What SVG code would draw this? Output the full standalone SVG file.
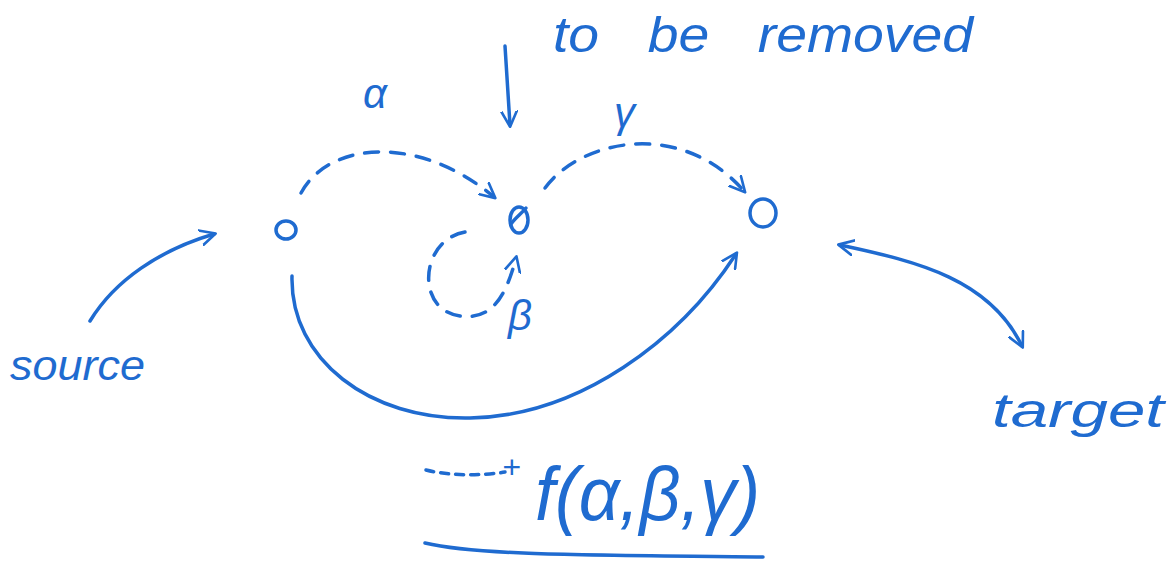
<svg xmlns="http://www.w3.org/2000/svg" width="1167" height="566" viewBox="0 0 1167 566">
<defs>
<marker id="ah" viewBox="0 0 10 10" refX="8" refY="5" markerWidth="5" markerHeight="5" orient="auto-start-reverse" markerUnits="strokeWidth">
<path d="M0,0.5 L9,5 L0,9.5" fill="none" stroke="#1f6bd0" stroke-width="1.5" stroke-linecap="round" stroke-linejoin="round"/>
</marker>
<style>
.s{fill:none;stroke:#1f6bd0;stroke-width:3.5;stroke-linecap:round;stroke-linejoin:round}
.d{stroke-dasharray:14 12}
.t{fill:#1f6bd0;font-family:"Liberation Sans",Arial,sans-serif;font-style:italic}
</style>
</defs>
<rect width="1167" height="566" fill="#ffffff"/>
<g id="node-source">
<ellipse class="s" cx="286" cy="230" rx="10" ry="9"/>
</g>
<g id="node-removed">
<ellipse class="s" cx="519" cy="220" rx="9" ry="13"/>
<path class="s" d="M511,224 C515,218 521,214 526,208"/>
</g>
<g id="node-target">
<ellipse class="s" cx="763" cy="213" rx="13" ry="14"/>
</g>
<g id="connectors">
<path class="s d" d="M301,193 C330,140 420,135 494,197" marker-end="url(#ah)"/>
<path class="s d" d="M545,188 C580,140 680,118 744,191" marker-end="url(#ah)"/>
<path class="s d" d="M465,232 C420,240 415,310 460,316 C490,320 505,300 516,258" marker-end="url(#ah)"/>
<path class="s" d="M292,276 C290,360 370,420 470,418 C580,416 680,340 736,254" marker-end="url(#ah)"/>
<path class="s" d="M90,321 C115,280 160,250 214,234" marker-end="url(#ah)"/>
<path class="s" d="M840,245 C920,262 990,280 1022,346" marker-start="url(#ah)" marker-end="url(#ah)"/>
<path class="s" d="M505,46 L510,125" marker-end="url(#ah)"/>
<path class="s" d="M426,470 C450,476 480,476 505,472" stroke-dasharray="8 7"/>
<path class="s" d="M425,543 C480,556 600,555 763,557"/>
</g>
<g id="labels">
<text class="t" x="553" y="52" font-size="50" textLength="420" lengthAdjust="spacingAndGlyphs" word-spacing="30">to be removed</text>
<text class="t" x="363" y="108" font-size="42">α</text>
<text class="t" x="614" y="127" font-size="42">γ</text>
<text class="t" x="508" y="330" font-size="42">β</text>
<text class="t" x="10" y="380" font-size="42" textLength="135" lengthAdjust="spacingAndGlyphs">source</text>
<text class="t" x="992" y="427" font-size="48" textLength="172" lengthAdjust="spacingAndGlyphs">target</text>
<text class="t" x="502" y="478" font-size="32">+</text>
<text class="t" x="535" y="520" font-size="76" textLength="225" lengthAdjust="spacingAndGlyphs">f(α,β,γ)</text>
</g>
</svg>
